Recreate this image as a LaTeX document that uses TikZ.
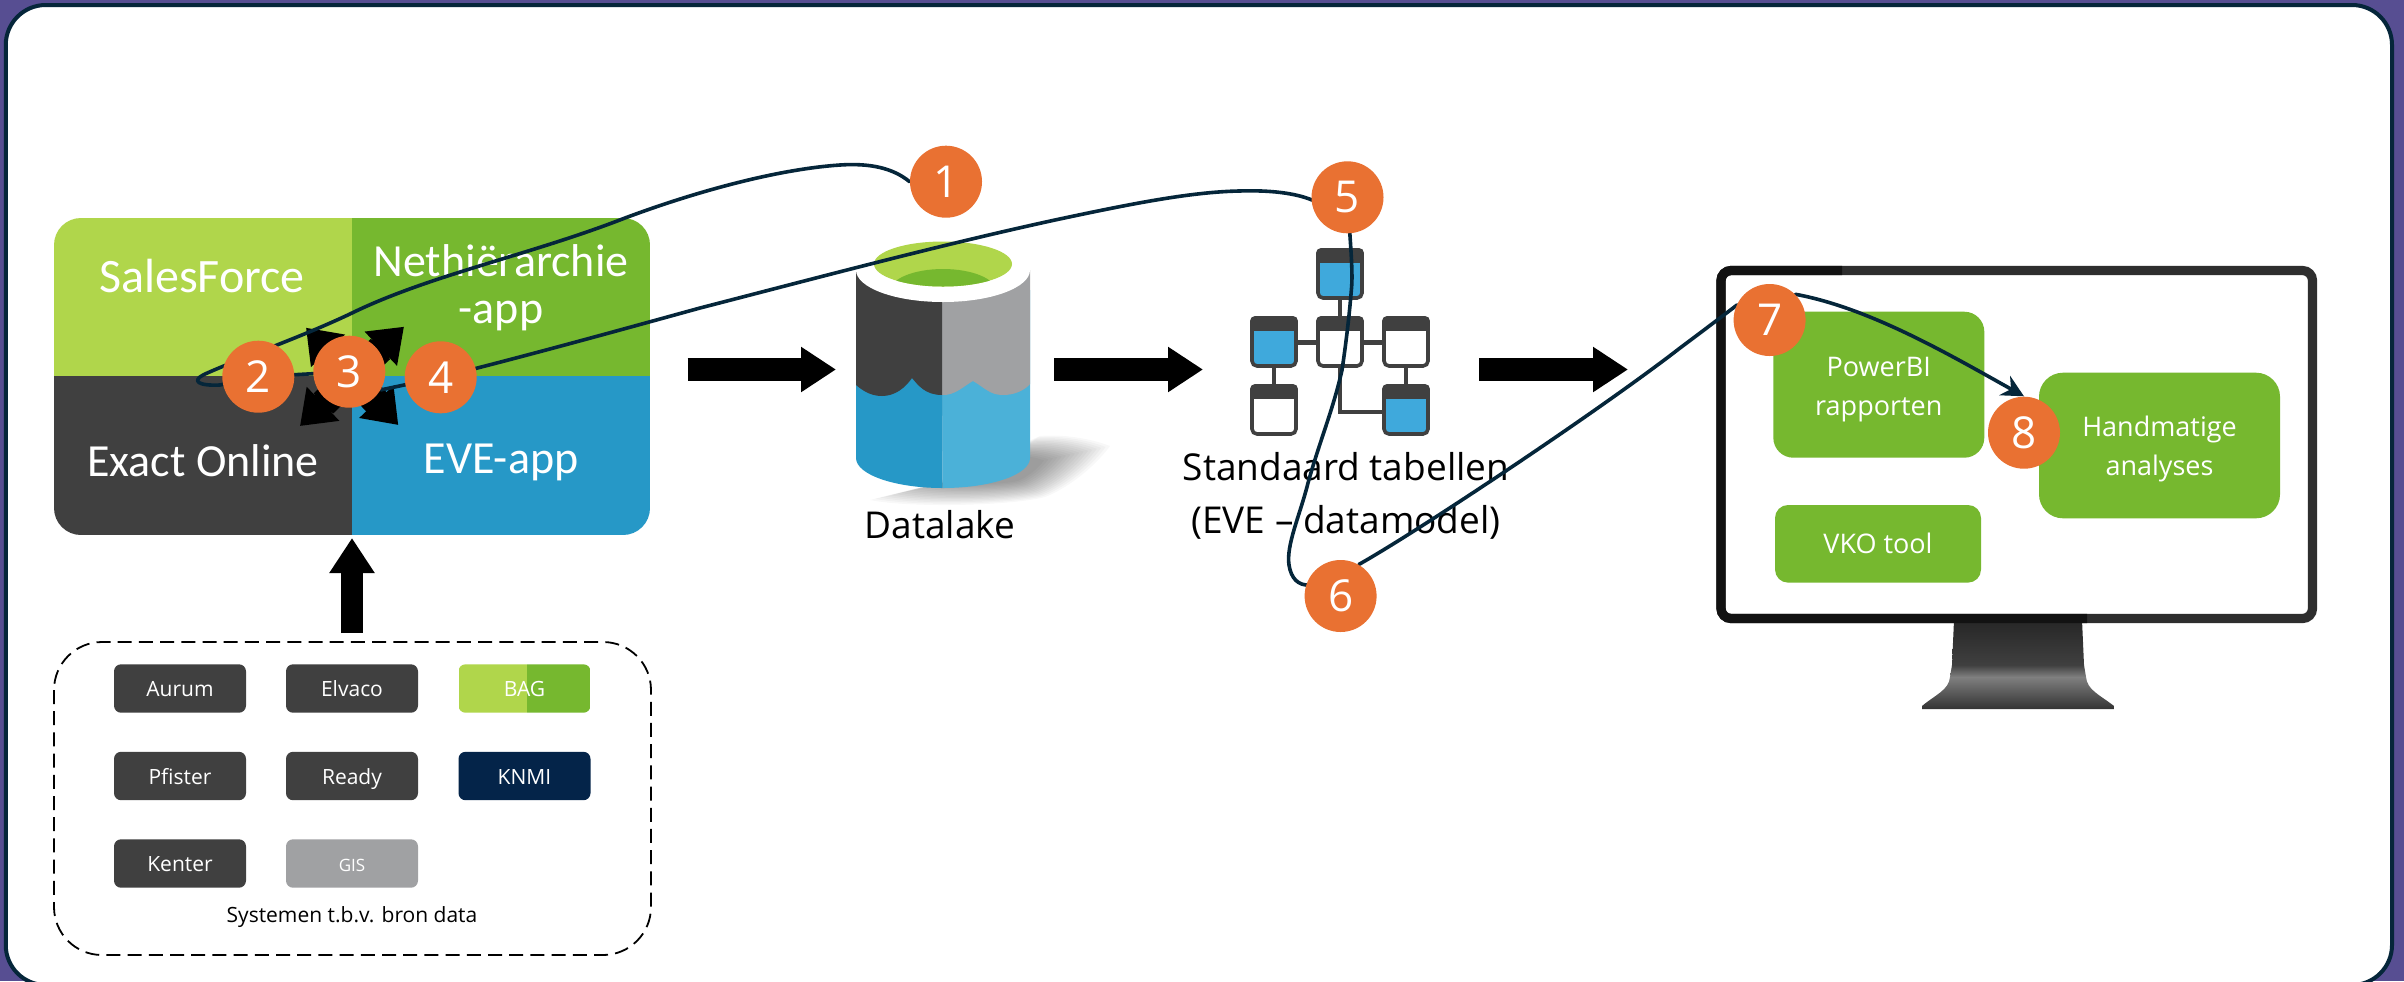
\documentclass[tikz,border=0pt]{standalone}
\usepackage{fontspec}
\usetikzlibrary{arrows.meta,shapes.geometric,calc}
\setmainfont{Open Sans}
\newfontfamily\condfont{Carlito}
\definecolor{bgpurple}{HTML}{574E92}
\definecolor{navy}{HTML}{05263A}
\definecolor{lime}{HTML}{B0D64B}
\definecolor{leaf}{HTML}{76B82F}
\definecolor{slate}{HTML}{404040}
\definecolor{sky}{HTML}{2698C7}
\definecolor{skyl}{HTML}{4BB1D8}
\definecolor{tblue}{HTML}{3FA9DC}
\definecolor{stone}{HTML}{A0A1A3}
\definecolor{knmi}{HTML}{042449}
\definecolor{badgeorange}{HTML}{E97132}
\pgfdeclarelayer{route}
\pgfdeclarelayer{top}
\pgfsetlayers{main,route,top}
\tikzset{
  x=0.5pt,y=-0.5pt,
  badge/.style={circle,fill=badgeorange,text=white,inner sep=0pt,minimum size=36pt,font=\fontsize{22}{24}\selectfont},
  flow/.style={draw=navy,line width=1.8pt,line cap=round,line join=round},
  blockarrow/.style={draw=black,line width=11.3pt,-{Triangle[length=17.5pt,width=21.5pt,fill=black]}},
  burst/.style={draw=black,line width=12pt,-{Triangle[length=16pt,width=22.5pt,fill=black]}},
  burstbase/.style={draw=black,line width=14pt},
  srcbox/.style={rounded corners=3.5pt,minimum width=66pt,minimum height=24.2pt,inner sep=0pt,text=white,text height=10pt,text depth=2pt,font=\fontsize{10.5}{12}\selectfont},
  quadtext/.style={text=white,align=center,font=\condfont\fontsize{23}{23.5}\selectfont},
  greenbox/.style={fill=leaf,text=white,align=center,inner sep=0pt,font=\fontsize{13.5}{19.5}\selectfont},
  caption/.style={text=black,align=center,font=\fontsize{18.5}{26.6}\selectfont},
  tbl/.style={draw=slate,line width=1.8pt,rounded corners=2.5pt,fill=white},
  tblb/.style={draw=slate,line width=1.8pt,rounded corners=2.5pt,fill=tblue},
  tlink/.style={draw=slate,line width=2.2pt},
}
\newcommand{\tablebox}[4]{% x y style name
  \path[#3] ($(#1,#2)+(2,2)$) rectangle ++(44,48);
  \begin{scope}
    \clip[rounded corners=2.5pt] (#1,#2) rectangle ++(48,52);
    \fill[slate] (#1,#2) rectangle ++(48,15);
  \end{scope}
  \coordinate (#4) at ($(#1,#2)+(24,26)$);
}
\begin{document}
\begin{tikzpicture}
\useasboundingbox (0,0) rectangle (2404,981);
\fill[bgpurple] (0,0) rectangle (2404,981);
\fill[white,draw=navy,line width=2pt,rounded corners=20pt] (5.75,5) rectangle (2392,985);

% four-part system block
\begin{scope}
  \clip[rounded corners=13.5pt] (54,218) rectangle (650,535);
  \fill[lime] (54,218) rectangle (352,376);
  \fill[leaf] (352,218) rectangle (650,376);
  \fill[slate] (54,376) rectangle (352,535);
  \fill[sky] (352,376) rectangle (650,535);
\end{scope}
\node[quadtext,font=\condfont\fontsize{24}{24}\selectfont] (sf) at (202,276) {SalesForce};
\node[quadtext] (nh) at (501,288) {Nethiërarchie\\-app};
\node[quadtext] (eo) at (203,461) {Exact Online};
\node[quadtext] (ev) at (501,462) {EVE-app};

% four outward arrows round badge 3
\coordinate (bc) at (352,376);
\coordinate (nw) at (306,327.7); \coordinate (ne) at (404,326.7);
\coordinate (sw) at (300,426); \coordinate (se) at (398.3,425);
\foreach \tgt in {nw,ne,sw,se}{
  \draw[burstbase] (bc) -- ($(bc)!0.55!(\tgt)$);
  \draw[burst] (bc) -- (\tgt);
}

% dashed source frame
\draw[black,line width=0.9pt,dash pattern=on 7pt off 3.6pt,rounded corners=24pt] (54,642) rectangle (651,955);
\foreach \n/\t/\xx/\yy/\c in {aur/Aurum/180/688.5/slate,elv/Elvaco/352/688.5/slate,pfi/Pfister/180/776/slate,rdy/Ready/352/776/slate,knm/KNMI/524.5/776/knmi,ken/Kenter/180/863.5/slate}
  \node[srcbox,fill=\c] (\n) at (\xx,\yy) {\t};
\begin{scope}
  \clip[rounded corners=3.5pt] (458.5,664.3) rectangle (590.5,712.7);
  \fill[lime] (458.5,664.3) rectangle (526.7,712.7);
  \fill[leaf] (526.7,664.3) rectangle (590.5,712.7);
\end{scope}
\node[srcbox] (bag) at (524.5,688.5) {BAG};
\node[srcbox,fill=stone,font=\fontsize{8.5}{10}\selectfont] (gis) at (352,863.5) {GIS};
\node[text=black,font=\fontsize{10.5}{12}\selectfont] (sys) at (352,917) {Systemen t.b.v. bron data};

% block arrows
\coordinate (upS) at (352,633); \coordinate (upE) at (352,538);
\draw[blockarrow] (upS) -- (upE);
\coordinate (a1S) at (687.5,369.5); \coordinate (a1E) at (836,369.5);
\draw[blockarrow] (a1S) -- (a1E);
\coordinate (a2S) at (1054,369.5); \coordinate (a2E) at (1203,369.5);
\draw[blockarrow] (a2S) -- (a2E);
\coordinate (a3S) at (1479,369.5); \coordinate (a3E) at (1628,369.5);
\draw[blockarrow] (a3S) -- (a3E);

% datalake
\foreach \s in {1.0,0.96,0.92,0.88,0.84,0.80,0.76,0.72,0.68,0.64,0.60,0.56,0.52,0.48,0.44,0.40}
  \fill[black,opacity=0.028] ({1000-130*\s},{470+30*\s}) .. controls ({1000-90*\s},{470+38*\s}) and ({1000+10*\s},{470+36*\s}) .. ({1000+45*\s},{470+27*\s}) .. controls ({1000+75*\s},{470+15*\s}) and ({1000+100*\s},{470-10*\s}) .. ({1000+110*\s},{470-24*\s}) .. controls ({1000+90*\s},{470-32*\s}) and ({1000+60*\s},{470-36*\s}) .. ({1000+40*\s},{470-34*\s}) -- ({1000-70*\s},{470+15*\s}) -- cycle;
\fill[skyl] (941.6,290) -- (1030,290) -- (1030,458) arc[x radius=87,y radius=30,start angle=0,end angle=90] -- cycle;
\fill[sky] (942.5,290) -- (856,290) -- (856,458) arc[x radius=86.5,y radius=30,start angle=180,end angle=90] -- cycle;
\fill[stone] (941.6,300) -- (941.6,395) .. controls (955,396) and (965,385) .. (973,381) .. controls (985,388) and (990,395) .. (1003,395) .. controls (1015,395) and (1025,390) .. (1030,384) -- (1030,270) -- cycle;
\fill[slate] (942,300) -- (942,395) .. controls (925,395) and (918,385) .. (912,378) .. controls (905,388) and (895,396) .. (882,396) .. controls (870,396) and (862,390) .. (856,385) -- (856,270) -- cycle;
\fill[white] (943,270) ellipse[x radius=87,y radius=32];
\begin{scope}
  \clip (943,264) ellipse[x radius=69,y radius=22.5];
  \fill[lime] (870,240) rectangle (1016,290);
  \fill[leaf] (943,291) ellipse[x radius=53,y radius=22];
\end{scope}
\node[caption] (dl) at (940,525) {Datalake};

% table model icon
\draw[tlink] (1340,300) -- (1340,316);
\draw[tlink] (1298,342.5) -- (1316,342.5);
\draw[tlink] (1364,342.5) -- (1382,342.5);
\draw[tlink] (1274,367.7) -- (1274,384);
\draw[tlink] (1406,367.7) -- (1406,384);
\draw[tlink] (1340,367.7) -- (1340,411.7) -- (1382,411.7);
\tablebox{1316}{248}{tblb}{t1}
\tablebox{1250}{316}{tblb}{t2}
\tablebox{1316}{316}{tbl}{t3}
\tablebox{1382}{316}{tbl}{t4}
\tablebox{1250}{384}{tbl}{t5}
\tablebox{1382}{384}{tblb}{t6}
\node[caption] (st) at (1346,496) {Standaard tabellen\\(EVE -- datamodel)};

% monitor
\shade[top color=black!85,bottom color=black!75] (1954,620) -- (2082,620) -- (2084,665) -- (1952,665) -- cycle;
\shade[top color=black!75,bottom color=black!50] (1952,665) -- (2084,665) -- (2086,677) -- (1950,677) -- cycle;
\shade[top color=black!50,bottom color=black!80] (1950,677) -- (2086,677) .. controls (2087,690) and (2100,695) .. (2114,706) -- (2114,709) -- (1922,709) -- (1922,706) .. controls (1935,695) and (1949,690) .. (1950,677) -- cycle;
\fill[white,draw=black!82,line width=4.6pt,rounded corners=5pt] (1721,270.5) rectangle (2312.5,618.5);
\begin{scope}
  \clip (1700,250) -- (1842,250) -- (1842,280) -- (1740,280) -- (1740,600) -- (2087,600) -- (2087,640) -- (1700,640) -- cycle;
  \draw[black!93,line width=4.6pt,rounded corners=5pt] (1721,270.5) rectangle (2312.5,618.5);
\end{scope}

\node[greenbox,rounded corners=10pt,minimum width=105.5pt,minimum height=73pt] (pbi) at (1878.8,384.7) {\rule{0pt}{14.1pt}PowerBI\\rapporten};
\node[greenbox,rounded corners=12pt,minimum width=120.5pt,minimum height=72.8pt] (hand) at (2159.5,445.5) {\rule{0pt}{14.1pt}Handmatige\\analyses};
\node[greenbox,rounded corners=6.5pt,minimum width=103pt,minimum height=38.8pt] (vko) at (1878,543.8) {VKO tool};

% numbered badges
\begin{pgfonlayer}{top}
\node[badge] (b1) at (946,181.7) {1};
\node[badge] (b2) at (258.3,376.7) {2};
\node[badge] (b3) at (349.3,371.7) {3};
\node[badge] (b4) at (440.7,377.3) {4};
\node[badge] (b5) at (1347.5,197.3) {5};
\node[badge] (b6) at (1340.6,596) {6};
\node[badge] (b7) at (1769.6,320) {7};
\node[badge] (b8) at (2024,432.7) {8};
\end{pgfonlayer}

% numbered route
\begin{pgfonlayer}{route}
\draw[flow] (b1.west) .. controls (893,168) and (870,163) .. (840,165)
  .. controls (780,169) and (700,190) .. (625,218)
  .. controls (530,255) and (430,275) .. (352,313)
  .. controls (300,338) and (230,362) .. (203,375)
  .. controls (192,381) and (198,386) .. (220,385) -- (b2.center);
\draw[flow] (b2.center) -- (b3.center);
\draw[flow] (b3.-30) -- (b4.center);
\draw[flow] (b4.center) .. controls (530,355) and (620,330) .. (700,308)
  .. controls (820,277) and (940,245) .. (1055,220)
  .. controls (1130,204) and (1190,192) .. (1239,191)
  .. controls (1270,190) and (1295,193) .. (1312,200) -- (b5.center);
\draw[flow] (b5.center) .. controls (1350,240) and (1353,270) .. (1351.6,287)
  .. controls (1349,320) and (1345,350) .. (1342,370)
  .. controls (1333,410) and (1320,440) .. (1308,483)
  .. controls (1300,515) and (1286,545) .. (1289,565)
  .. controls (1291,578) and (1298,586) .. (1310,585) -- (b6.center);
\draw[flow] (b6.60) .. controls (1420,530) and (1600,410) .. (1680,348)
  .. controls (1700,333) and (1720,318) .. (1737,305) -- (b7.center);
\draw[flow,-{Stealth[length=11pt,width=11pt]}] (b7.north east) .. controls (1870,308) and (1950,355) .. (b8.north);
\end{pgfonlayer}
\end{tikzpicture}
\end{document}
